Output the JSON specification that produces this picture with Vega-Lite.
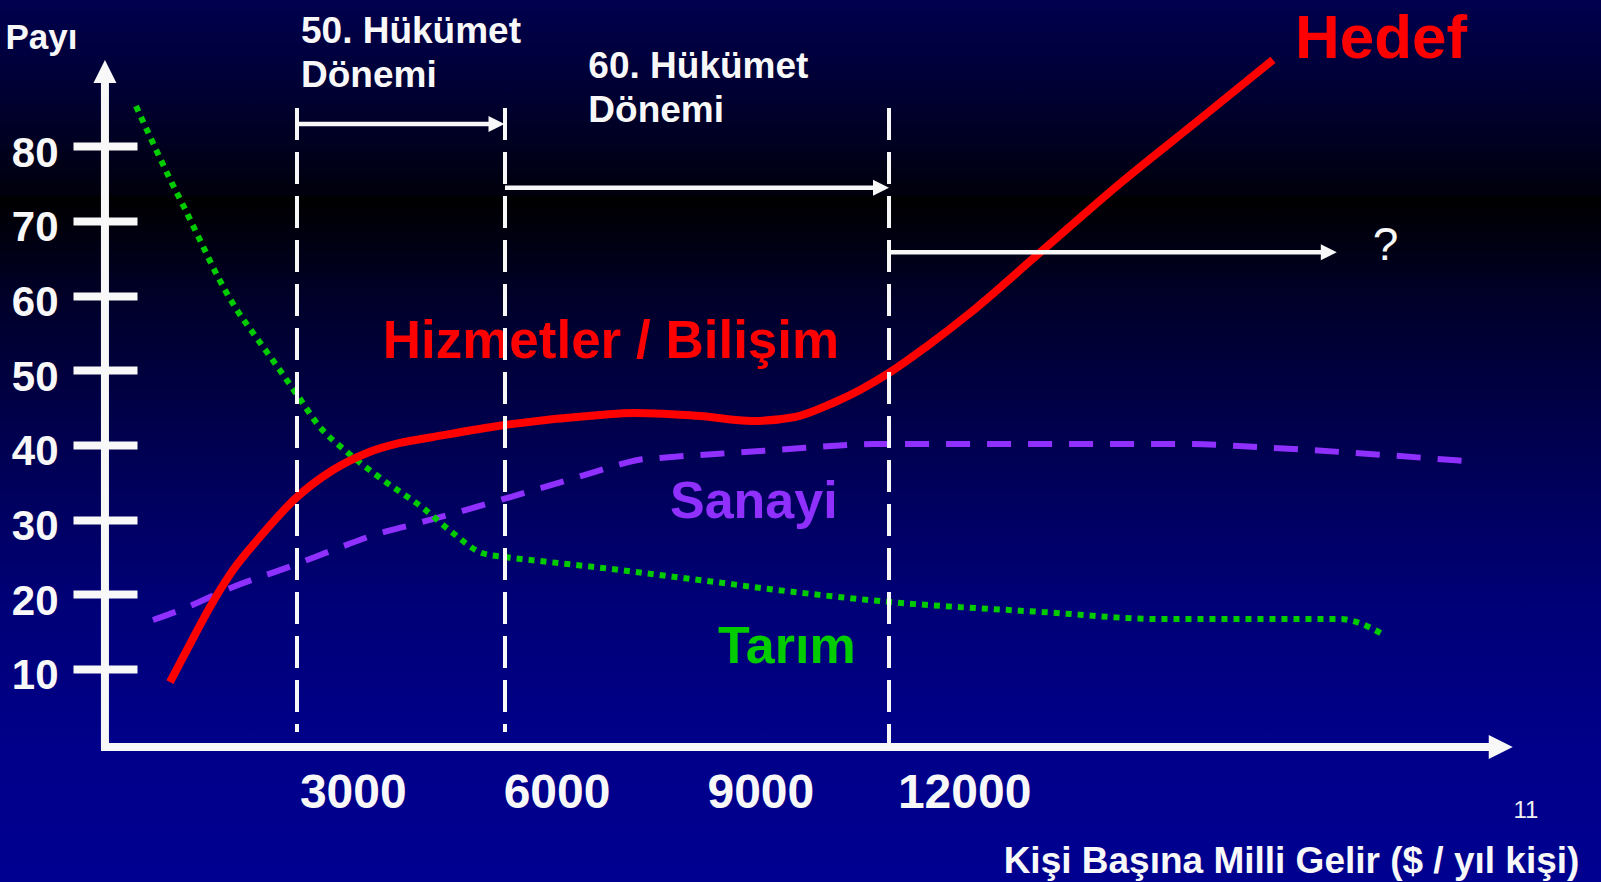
{
  "$schema": "https://vega.github.io/schema/vega-lite/v6.json",
  "width": 1601,
  "height": 882,
  "padding": 0,
  "autosize": {"type": "none"},
  "background": "#000060",
  "config": {"font": "Liberation Sans", "view": {"stroke": null}},
  "view": {
    "stroke": null,
    "fill": {
      "gradient": "linear", "x1": 0, "y1": 0, "x2": 0, "y2": 1,
      "stops": [
        {"offset": 0, "color": "#00004e"},
        {"offset": 0.1, "color": "#000034"},
        {"offset": 0.2, "color": "#000014"},
        {"offset": 0.222, "color": "#00000c"},
        {"offset": 0.2235, "color": "#000000"},
        {"offset": 0.34, "color": "#00002a"},
        {"offset": 0.51, "color": "#000052"},
        {"offset": 0.68, "color": "#000076"},
        {"offset": 0.85, "color": "#00008a"},
        {"offset": 1, "color": "#000090"}
      ]
    }
  },
  "datasets": {
    "hizmet": [
      {"x": 309, "y": 8.24}, {"x": 559, "y": 12.53}, {"x": 898, "y": 18.29}, {"x": 1237, "y": 23.24},
      {"x": 1634, "y": 27.67}, {"x": 2179, "y": 33.02}, {"x": 2709, "y": 36.64}, {"x": 3209, "y": 38.92},
      {"x": 3695, "y": 40.26}, {"x": 4181, "y": 41.06}, {"x": 5241, "y": 42.67}, {"x": 6639, "y": 44.01},
      {"x": 7140, "y": 44.28}, {"x": 8111, "y": 43.87}, {"x": 8877, "y": 43.2}, {"x": 9510, "y": 43.74},
      {"x": 10069, "y": 45.62}, {"x": 10467, "y": 47.36}, {"x": 10894, "y": 49.64}, {"x": 11438, "y": 53.12},
      {"x": 12086, "y": 57.67}, {"x": 13058, "y": 65.31}, {"x": 14338, "y": 75.36}, {"x": 15472, "y": 83.66},
      {"x": 16546, "y": 91.57}
    ],
    "sanayi": [
      {"x": 59, "y": 16.55}, {"x": 397, "y": 17.66}, {"x": 1237, "y": 20.97}, {"x": 2135, "y": 23.91},
      {"x": 2709, "y": 25.92}, {"x": 3312, "y": 27.93}, {"x": 3916, "y": 29.41}, {"x": 4505, "y": 30.88},
      {"x": 5123, "y": 32.49}, {"x": 5726, "y": 34.1}, {"x": 6315, "y": 35.7}, {"x": 6904, "y": 37.31},
      {"x": 7199, "y": 37.98}, {"x": 7522, "y": 38.25}, {"x": 8774, "y": 39.05}, {"x": 9421, "y": 39.45},
      {"x": 10040, "y": 39.86}, {"x": 10658, "y": 40.12}, {"x": 13161, "y": 40.12}, {"x": 15325, "y": 40.12},
      {"x": 16311, "y": 39.72}, {"x": 17547, "y": 39.05}, {"x": 19373, "y": 37.85}
    ],
    "tarim": [
      {"x": -191, "y": 85.4}, {"x": 59, "y": 80.45}, {"x": 294, "y": 75.89}, {"x": 530, "y": 71.6},
      {"x": 765, "y": 67.18}, {"x": 1001, "y": 62.76}, {"x": 1266, "y": 58.48}, {"x": 1575, "y": 54.46},
      {"x": 1884, "y": 50.57}, {"x": 2193, "y": 46.55}, {"x": 2503, "y": 42.54}, {"x": 2915, "y": 39.05},
      {"x": 3445, "y": 35.3}, {"x": 4034, "y": 31.55}, {"x": 4475, "y": 28.2}, {"x": 4902, "y": 25.52},
      {"x": 5241, "y": 24.99}, {"x": 5756, "y": 24.45}, {"x": 6683, "y": 23.51}, {"x": 8097, "y": 21.91},
      {"x": 9495, "y": 20.3}, {"x": 10908, "y": 18.96}, {"x": 13146, "y": 17.62}, {"x": 14898, "y": 16.68},
      {"x": 17547, "y": 16.68}, {"x": 17724, "y": 16.41}, {"x": 18180, "y": 14.54}
    ],
    "periods": [
      {"x": 2179, "y": 85.13, "y2": 1.54},
      {"x": 5241, "y": 85.13, "y2": 1.54},
      {"x": 10894, "y": 85.13, "y2": 0.07}
    ],
    "spans": [
      {"x": 2179, "x2": 5116, "y": 83.0},
      {"x": 5241, "x2": 10776, "y": 74.46},
      {"x": 10894, "x2": 17368, "y": 65.8}
    ],
    "spanHeads": [
      {"x": 5116, "y": 83.0},
      {"x": 10776, "y": 74.46},
      {"x": 17368, "y": 65.8}
    ],
    "yAxisLine": [{"x": -648, "y": 88.5, "y2": -1.0}],
    "xAxisLine": [{"x": -706, "x2": 19726, "y": -0.47}],
    "yAxisHead": [{"x": -648, "y": 90.02}],
    "xAxisHead": [{"x": 19899, "y": -0.47}],
    "periodText": [
      {"label": "50. Hükümet", "x": 2238, "y": 93.84},
      {"label": "Dönemi", "x": 2238, "y": 87.95},
      {"label": "60. Hükümet", "x": 6468, "y": 89.15},
      {"label": "Dönemi", "x": 6468, "y": 83.26}
    ],
    "hedefText": [{"label": "Hedef", "x": 16870, "y": 91.83}],
    "hizmetText": [{"label": "Hizmetler / Bilişim", "x": 3440, "y": 51.64}],
    "sanayiText": [{"label": "Sanayi", "x": 7670, "y": 30.21}],
    "tarimText": [{"label": "Tarım", "x": 8376, "y": 10.83}],
    "questionText": [{"label": "?", "x": 18203, "y": 66.65}],
    "pageText": [{"label": "11", "x": 20271, "y": -9.04}]
  },
  "encoding": {
    "x": {
      "field": "x", "type": "quantitative",
      "scale": {"domain": [-2193, 21375], "nice": false, "zero": false},
      "axis": {
        "title": "Kişi Başına Milli Gelir ($ / yıl kişi)",
        "values": [3000, 6000, 9000, 12000], "format": "d",
        "orient": "bottom", "offset": -135,
        "domain": false, "ticks": false, "tickSize": 0, "grid": false,
        "labelFontSize": 48, "labelFontWeight": "bold", "labelColor": "#F8F8F8",
        "labelPadding": 22, "labelFlush": false, "labelOverlap": false, "labelBaseline": "top",
        "titleFontSize": 37, "titleFontWeight": "bold", "titleColor": "#F8F8F8",
        "titleX": 1291, "titleY": 125, "titleAlign": "center", "titleBaseline": "alphabetic"
      }
    },
    "y": {
      "field": "y", "type": "quantitative",
      "scale": {"domain": [-18.55, 99.6], "nice": false, "zero": false},
      "axis": {
        "title": "Payı",
        "values": [10, 20, 30, 40, 50, 60, 70, 80], "format": "d",
        "orient": "left", "offset": -137,
        "domain": false, "ticks": true, "tickSize": 64, "tickWidth": 8, "tickColor": "#F8F8F8", "tickCap": "butt",
        "grid": false,
        "labelFontSize": 42, "labelFontWeight": "bold", "labelColor": "#F8F8F8",
        "labelPadding": 15, "labelOffset": 7, "labelBaseline": "middle", "labelFlush": false, "labelOverlap": false,
        "titleAngle": 0, "titleX": -132, "titleY": 48, "titleAlign": "left", "titleBaseline": "alphabetic",
        "titleFontSize": 35, "titleFontWeight": "bold", "titleColor": "#F8F8F8"
      }
    }
  },
  "layer": [
    {
      "data": {"name": "sanayi"},
      "mark": {"type": "line", "color": "#9030FF", "strokeWidth": 6, "strokeDash": [24, 17], "interpolate": "monotone", "strokeCap": "butt"}
    },
    {
      "data": {"name": "tarim"},
      "mark": {"type": "line", "color": "#00CC00", "strokeWidth": 6, "strokeDash": [6, 6], "interpolate": "monotone", "strokeCap": "butt"}
    },
    {
      "data": {"name": "hizmet"},
      "mark": {"type": "line", "color": "#FF0000", "strokeWidth": 8, "interpolate": "monotone", "strokeCap": "butt"}
    },
    {
      "data": {"name": "periodText"},
      "mark": {"type": "text", "align": "left", "baseline": "alphabetic", "fontSize": 37, "fontWeight": "bold", "color": "#F8F8F8"},
      "encoding": {"text": {"field": "label"}}
    },
    {
      "data": {"name": "hedefText"},
      "mark": {"type": "text", "align": "left", "baseline": "alphabetic", "fontSize": 62, "fontWeight": "bold", "color": "#FF0000"},
      "encoding": {"text": {"field": "label"}}
    },
    {
      "data": {"name": "hizmetText"},
      "mark": {"type": "text", "align": "left", "baseline": "alphabetic", "fontSize": 53, "fontWeight": "bold", "color": "#FF0000"},
      "encoding": {"text": {"field": "label"}}
    },
    {
      "data": {"name": "sanayiText"},
      "mark": {"type": "text", "align": "left", "baseline": "alphabetic", "fontSize": 52, "fontWeight": "bold", "color": "#9030FF"},
      "encoding": {"text": {"field": "label"}}
    },
    {
      "data": {"name": "tarimText"},
      "mark": {"type": "text", "align": "left", "baseline": "alphabetic", "fontSize": 52, "fontWeight": "bold", "color": "#00CC00"},
      "encoding": {"text": {"field": "label"}}
    },
    {
      "data": {"name": "questionText"},
      "mark": {"type": "text", "align": "center", "baseline": "middle", "fontSize": 46, "fontWeight": "normal", "color": "#F8F8F8"},
      "encoding": {"text": {"field": "label"}}
    },
    {
      "data": {"name": "pageText"},
      "mark": {"type": "text", "align": "center", "baseline": "middle", "fontSize": 24, "fontWeight": "normal", "color": "#F0F0F0"},
      "encoding": {"text": {"field": "label"}}
    },
    {
      "data": {"name": "periods"},
      "mark": {"type": "rule", "color": "#F8F8F8", "strokeWidth": 4, "strokeDash": [32, 12], "strokeCap": "butt"},
      "encoding": {"y2": {"field": "y2"}}
    },
    {
      "data": {"name": "spans"},
      "mark": {"type": "rule", "color": "#F8F8F8", "strokeWidth": 4.5, "strokeCap": "butt"},
      "encoding": {"x2": {"field": "x2"}}
    },
    {
      "data": {"name": "spanHeads"},
      "mark": {"type": "point", "shape": "M1,0L-1,-1L-1,1Z", "filled": true, "size": 256, "color": "#F8F8F8", "opacity": 1, "strokeWidth": 0}
    },
    {
      "data": {"name": "yAxisLine"},
      "mark": {"type": "rule", "color": "#F8F8F8", "strokeWidth": 8, "strokeCap": "butt"},
      "encoding": {"y2": {"field": "y2"}}
    },
    {
      "data": {"name": "xAxisLine"},
      "mark": {"type": "rule", "color": "#F8F8F8", "strokeWidth": 8, "strokeCap": "butt"},
      "encoding": {"x2": {"field": "x2"}}
    },
    {
      "data": {"name": "yAxisHead"},
      "mark": {"type": "point", "shape": "M0,-1L1,1L-1,1Z", "filled": true, "size": 529, "color": "#F8F8F8", "opacity": 1, "strokeWidth": 0}
    },
    {
      "data": {"name": "xAxisHead"},
      "mark": {"type": "point", "shape": "M1,0L-1,-1L-1,1Z", "filled": true, "size": 576, "color": "#F8F8F8", "opacity": 1, "strokeWidth": 0}
    }
  ]
}
